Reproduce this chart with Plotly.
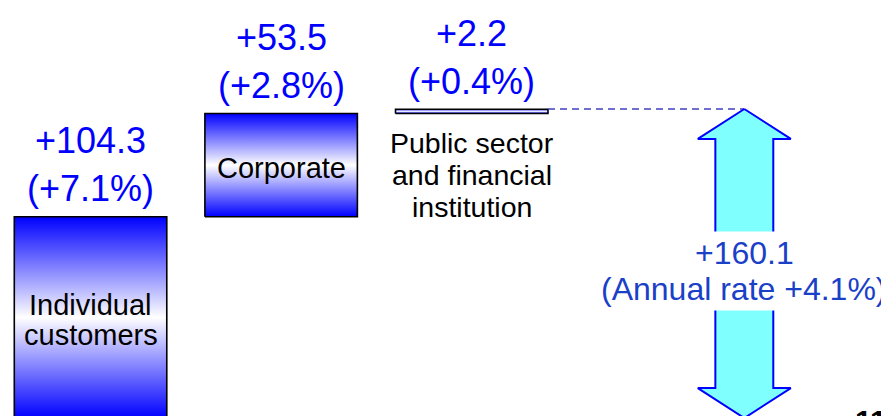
import plotly.graph_objects as go

# ---------------- data ----------------
segment_lines = [["Individual", "customers"], ["Corporate"], ["Public sector", "and financial", "institution"]]
increments = [104.3, 53.5, 2.2]
growth_pct = ["+7.1%", "+2.8%", "+0.4%"]
total_increase = 160.1
total_rate = "+4.1%"
page_number = "11"

# ---------------- style ----------------
W, H = 889, 416
FONT = "Arial, 'Liberation Sans', sans-serif"
BLUE = "#0000ff"
GRAD = [[0.0, "#0000ff"], [0.5, "#ffffff"], [1.0, "#0000ff"]]
Y_RANGE = [-3.11, 212.44]
X_RANGE = [-0.433, 4.231]
BAR_HALF = 0.4
ARROW_X = 3.43
SHAFT_HALF = 0.152
HEAD_HALF = 0.244
HEAD_LEN = 15.5

fig = go.Figure()
ann = []

base = 0.0
for i, (v, pct, lines) in enumerate(zip(increments, growth_pct, segment_lines)):
    x0, x1 = i - BAR_HALF, i + BAR_HALF
    b, t = base, base + v
    fig.add_trace(go.Scatter(
        x=[x0, x1, x1, x0, x0], y=[b, b, t, t, b],
        mode="lines", fill="toself",
        fillgradient=dict(type="vertical", colorscale=GRAD),
        line=dict(color="black", width=1.6),
        hoverinfo="skip", showlegend=False))
    # value labels above the bar
    ann.append(dict(x=i, y=t, text=f"+{v}", yshift=76, showarrow=False,
                    xanchor="center", yanchor="middle",
                    font=dict(family=FONT, size=36, color=BLUE)))
    ann.append(dict(x=i, y=t, text=f"({pct})", yshift=28, showarrow=False,
                    xanchor="center", yanchor="middle",
                    font=dict(family=FONT, size=36, color=BLUE)))
    # category labels
    n = len(lines)
    if v > 10:
        mid = (b + t) / 2
        for k, ln in enumerate(lines):
            off = -((k - (n - 1) / 2) * 30) - 3
            ann.append(dict(x=i, y=mid, text=ln, yshift=off, showarrow=False,
                            xanchor="center", yanchor="middle",
                            font=dict(family=FONT, size=29, color="black")))
    else:
        for k, ln in enumerate(lines):
            off = -30 - 31.7 * k
            ann.append(dict(x=i, y=b, text=ln, yshift=off, showarrow=False,
                            xanchor="center", yanchor="middle",
                            font=dict(family=FONT, size=28.5, color="black")))
    base = t

# dashed connector from last bar to the arrow tip
fig.add_trace(go.Scatter(
    x=[len(increments) - 1 + BAR_HALF, ARROW_X], y=[total_increase, total_increase],
    mode="lines", line=dict(color="#4040c0", width=1.5, dash="7px,5px"),
    hoverinfo="skip", showlegend=False))

# double-headed arrow for the total
t = total_increase
ax = [ARROW_X, ARROW_X + HEAD_HALF, ARROW_X + SHAFT_HALF, ARROW_X + SHAFT_HALF,
      ARROW_X + HEAD_HALF, ARROW_X, ARROW_X - HEAD_HALF, ARROW_X - SHAFT_HALF,
      ARROW_X - SHAFT_HALF, ARROW_X - HEAD_HALF, ARROW_X]
ay = [t, t - HEAD_LEN, t - HEAD_LEN, HEAD_LEN, HEAD_LEN, 0, HEAD_LEN, HEAD_LEN,
      t - HEAD_LEN, t - HEAD_LEN, t]
fig.add_trace(go.Scatter(x=ax, y=ay, mode="lines", fill="toself",
                         fillcolor="#80ffff", line=dict(color=BLUE, width=2),
                         hoverinfo="skip", showlegend=False))

for txt, sh in [(f"+{total_increase}", 11), (f"(Annual rate {total_rate})", -25)]:
    ann.append(dict(x=ARROW_X, y=total_increase / 2, yshift=sh, text=txt,
                    showarrow=False, xanchor="center", yanchor="middle",
                    bgcolor="white", borderpad=3,
                    font=dict(family=FONT, size=32, color="#1a40c8")))

ann.append(dict(xref="paper", yref="paper", x=863 / W, y=0, yshift=22,
                text=f"<b>{page_number}</b>", showarrow=False,
                xanchor="center", yanchor="top",
                font=dict(family=FONT, size=30, color="black")))

fig.update_layout(
    width=W, height=H, margin=dict(l=0, r=0, t=0, b=0),
    paper_bgcolor="white", plot_bgcolor="white",
    xaxis=dict(range=X_RANGE, visible=False, fixedrange=True),
    yaxis=dict(range=Y_RANGE, visible=False, fixedrange=True),
    annotations=ann, showlegend=False)

fig.write_html("out.html")
